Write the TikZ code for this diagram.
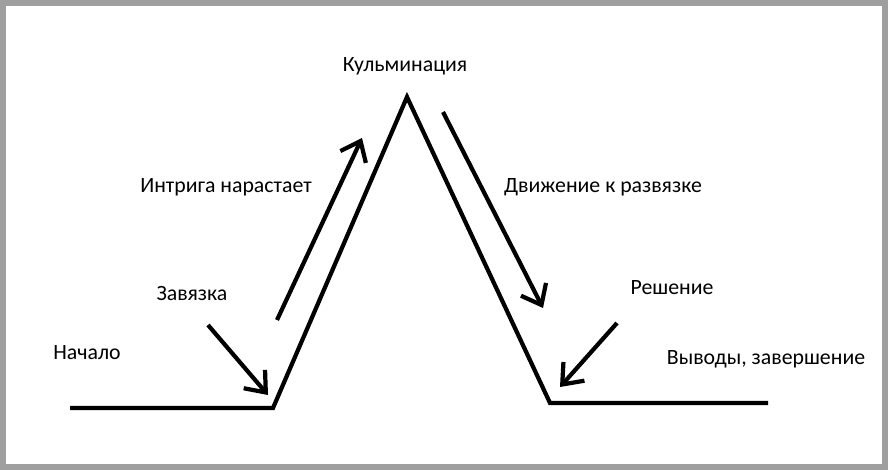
\documentclass[tikz,border=0pt]{standalone}
\usepackage{fontspec}
\setmainfont{Carlito}
\usetikzlibrary{arrows.meta, positioning, calc}

\begin{document}
\begin{tikzpicture}[x=0.01cm,y=-0.01cm,
    plot/.style={line width=1.2pt, line join=miter},
    hint/.style={line width=1.2pt, -{Straight Barb[length=5pt,width=8pt,line width=1.2pt]}},
    lbl/.style={font=\fontsize{6.2}{8}\selectfont}]
           % frame
           \useasboundingbox (0,0) rectangle (888,470);
           \draw[line width=1.7pt, gray!75] (3,3) rectangle (885,467);
           % the curve
           \coordinate (S) at (70,408);
           \coordinate (T) at (273,408);
           \coordinate (K) at (407,97);
           \coordinate (B) at (550,403);
           \coordinate (E) at (768,403);
           \draw[plot] (S) -- (T) -- (K) -- (B) -- (E);
           % labels
           \node[lbl] at (87,353) (L1) {Начало};
           \node[lbl] at (192,294) (L2) {Завязка};
           \node[lbl] at (226,187) (L3) {Интрига нарастает};
           \node[lbl] at (405,66) (L4) {Кульминация};
           \node[lbl] at (603,187) (L5) {Движение к развязке};
           \node[lbl] at (672,288) (L6) {Решение};
           \node[lbl] at (766,359) (L7) {Выводы, завершение};
           % arrows
           \coordinate (a1) at (277,320); \coordinate (a2) at (362,138);
           \coordinate (b1) at (208,325); \coordinate (b2) at (268,395);
           \coordinate (c1) at (443,112); \coordinate (c2) at (543,308);
           \coordinate (d1) at (617,323); \coordinate (d2) at (560,387);
           \draw[hint] (a1) -- (a2);
           \draw[hint] (b1) -- (b2);
           \draw[hint] (c1) -- (c2);
           \draw[hint] (d1) -- (d2);
        \end{tikzpicture}
\end{document}
